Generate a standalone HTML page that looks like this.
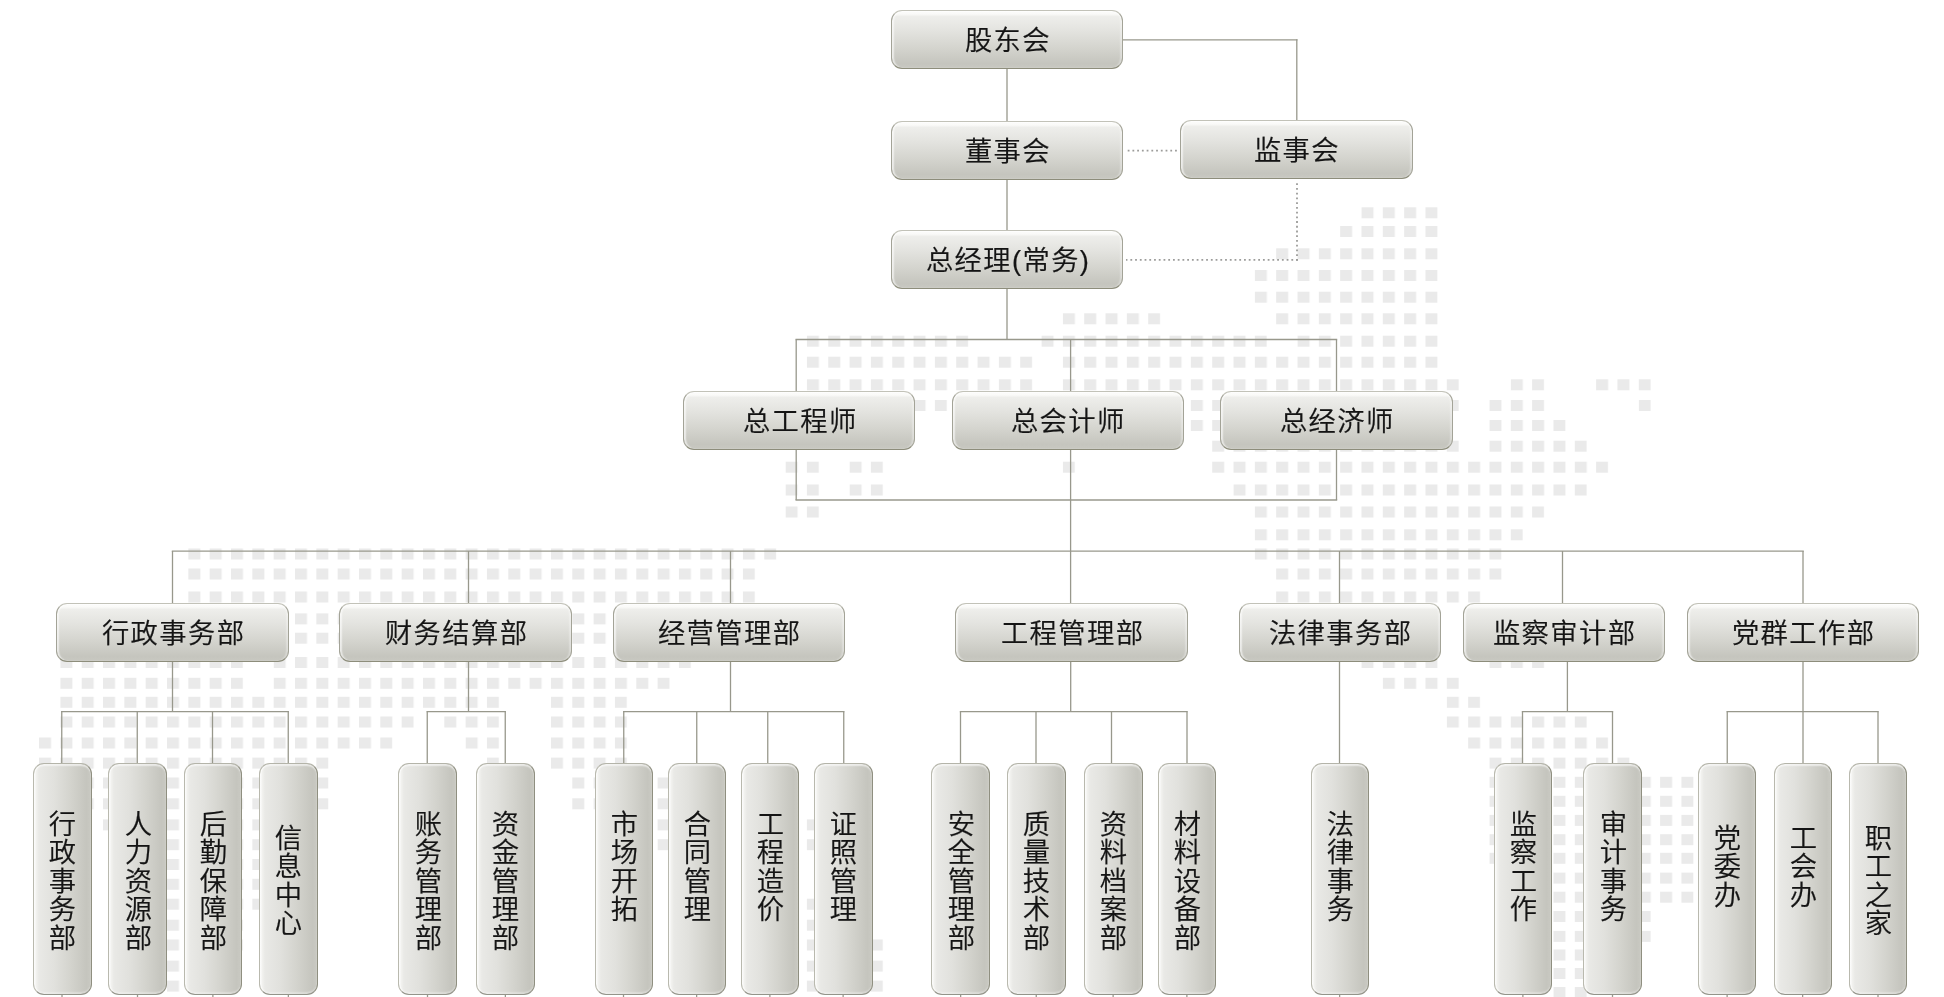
<!DOCTYPE html>
<html lang="zh-CN"><head><meta charset="utf-8"><title>组织机构</title>
<style>
html,body{margin:0;padding:0;background:#fff;}
body{width:1944px;height:997px;position:relative;overflow:hidden;font-family:"Liberation Sans","Noto Sans CJK SC",sans-serif;}
#bg,#ln{position:absolute;left:0;top:0;}
#all{position:absolute;left:0;top:0;width:1944px;height:997px;}
.b{position:absolute;box-sizing:border-box;border:1.4px solid;border-radius:11px;color:#141414;-webkit-text-stroke:0.22px #141414;font-size:27.3px;letter-spacing:1.4px;font-weight:350;}
.h{height:59px;line-height:59px;text-align:center;white-space:nowrap;text-indent:0.9px;
 border-color:#c2c2b8 #a3a397 #8d8d7b #a3a397;
 background:linear-gradient(to bottom,#fcfcfb 0,#fafaf8 3px,#eeeeeb 5.5px,#e3e3df 35%,#d4d4ce 65%,#c5c5be 92%,#c8c8c1 100%);
 box-shadow:inset 2.5px 0 1.5px -0.5px rgba(255,255,255,.6), inset -2.5px 0 1.5px -0.5px rgba(255,255,255,.3), inset 0 1px 1px rgba(255,255,255,.6);}
.v{top:763px;height:232.25px;text-align:center;
 border-color:#b4b4a9 #8f8f80 #94948a #b9b9ae;
 background:linear-gradient(to right,#f7f7f5 0,#f1f1ee 2.5px,#e9e9e6 5px,#e1e1dd 35%,#d3d3cd 65%,#c5c5be 92%,#c9c9c2 100%);
 box-shadow:inset 0 2.5px 1.5px -0.5px rgba(255,255,255,.6), inset 0 -2.5px 1.5px -0.5px rgba(255,255,255,.3), inset 2px 0 1px -0.5px rgba(255,255,255,.55);}
.h span{display:inline-block;will-change:transform;}
.v span{will-change:transform;position:absolute;left:50%;transform:translateX(calc(-50% - 2.6px));display:block;writing-mode:vertical-rl;line-height:30px;width:30px;letter-spacing:1.15px;white-space:nowrap;}
</style></head><body>
<div id="all"><svg id="bg" width="1944" height="997" viewBox="0 0 1944 997"><defs><pattern id="p" x="17.7" y="0" width="21.33" height="64" patternUnits="userSpaceOnUse"><rect x="0" y="0" width="12" height="64" fill="#eaeaea"/></pattern></defs><g fill="url(#p)"><rect x="1361.2" y="207.3" width="76.6" height="11"/><rect x="1339.9" y="226.0" width="97.9" height="11"/><rect x="1275.9" y="248.3" width="161.9" height="11"/><rect x="1254.5" y="270.0" width="183.2" height="11"/><rect x="1254.5" y="291.7" width="183.2" height="11"/><rect x="1062.6" y="313.3" width="97.9" height="11"/><rect x="1275.9" y="313.3" width="161.9" height="11"/><rect x="806.6" y="335.7" width="161.9" height="11"/><rect x="1041.2" y="335.7" width="225.9" height="11"/><rect x="1297.2" y="335.7" width="140.6" height="11"/><rect x="806.6" y="356.7" width="225.9" height="11"/><rect x="1062.6" y="356.7" width="375.2" height="11"/><rect x="806.6" y="379.3" width="225.9" height="11"/><rect x="1062.6" y="379.3" width="396.5" height="11"/><rect x="1510.5" y="379.3" width="33.9" height="11"/><rect x="1595.8" y="379.3" width="55.3" height="11"/><rect x="806.6" y="400.0" width="140.6" height="11"/><rect x="1062.6" y="400.0" width="396.5" height="11"/><rect x="1489.2" y="400.0" width="55.3" height="11"/><rect x="1638.5" y="400.0" width="12.6" height="11"/><rect x="827.9" y="420.0" width="76.6" height="11"/><rect x="1083.9" y="420.0" width="353.9" height="11"/><rect x="1489.2" y="420.0" width="76.6" height="11"/><rect x="1211.9" y="440.7" width="247.2" height="11"/><rect x="1489.2" y="440.7" width="97.9" height="11"/><rect x="785.3" y="461.7" width="33.9" height="11"/><rect x="849.3" y="461.7" width="33.9" height="11"/><rect x="1062.6" y="461.7" width="12.6" height="11"/><rect x="1211.9" y="461.7" width="396.5" height="11"/><rect x="785.3" y="484.5" width="33.9" height="11"/><rect x="849.3" y="484.5" width="33.9" height="11"/><rect x="1233.2" y="484.5" width="353.9" height="11"/><rect x="785.3" y="506.5" width="33.9" height="11"/><rect x="1254.5" y="506.5" width="289.9" height="11"/><rect x="1254.5" y="529.3" width="268.6" height="11"/><rect x="188.0" y="548.5" width="588.5" height="11"/><rect x="1254.5" y="548.5" width="247.2" height="11"/><rect x="188.0" y="568.5" width="567.2" height="11"/><rect x="1275.9" y="568.5" width="225.9" height="11"/><rect x="188.0" y="591.5" width="567.2" height="11"/><rect x="1275.9" y="591.5" width="204.6" height="11"/><rect x="188.0" y="613.4" width="567.2" height="11"/><rect x="1297.2" y="613.4" width="140.6" height="11"/><rect x="188.0" y="632.7" width="567.2" height="11"/><rect x="1339.9" y="632.7" width="97.9" height="11"/><rect x="60.1" y="657.0" width="183.2" height="11"/><rect x="273.4" y="657.0" width="417.9" height="11"/><rect x="1361.2" y="657.0" width="76.6" height="11"/><rect x="1489.2" y="657.0" width="55.3" height="11"/><rect x="60.1" y="677.8" width="183.2" height="11"/><rect x="273.4" y="677.8" width="396.5" height="11"/><rect x="1382.5" y="677.8" width="76.6" height="11"/><rect x="60.1" y="696.8" width="439.2" height="11"/><rect x="550.7" y="696.8" width="76.6" height="11"/><rect x="1446.5" y="696.8" width="33.9" height="11"/><rect x="60.1" y="716.5" width="353.9" height="11"/><rect x="444.0" y="716.5" width="55.3" height="11"/><rect x="550.7" y="716.5" width="76.6" height="11"/><rect x="1446.5" y="716.5" width="140.6" height="11"/><rect x="38.7" y="737.5" width="353.9" height="11"/><rect x="465.3" y="737.5" width="33.9" height="11"/><rect x="550.7" y="737.5" width="76.6" height="11"/><rect x="1467.8" y="737.5" width="140.6" height="11"/><rect x="38.7" y="757.6" width="289.9" height="11"/><rect x="486.7" y="757.6" width="12.6" height="11"/><rect x="550.7" y="757.6" width="76.6" height="11"/><rect x="1489.2" y="757.6" width="140.6" height="11"/><rect x="60.1" y="777.5" width="268.6" height="11"/><rect x="572.0" y="777.5" width="97.9" height="11"/><rect x="1489.2" y="776.8" width="204.6" height="11"/><rect x="81.4" y="798.3" width="247.2" height="11"/><rect x="572.0" y="798.3" width="119.2" height="11"/><rect x="1489.2" y="795.8" width="204.6" height="11"/><rect x="102.7" y="819.4" width="204.6" height="11"/><rect x="614.6" y="819.4" width="97.9" height="11"/><rect x="785.3" y="819.4" width="33.9" height="11"/><rect x="1489.2" y="814.9" width="204.6" height="11"/><rect x="124.0" y="839.2" width="161.9" height="11"/><rect x="657.3" y="839.2" width="55.3" height="11"/><rect x="785.3" y="839.2" width="33.9" height="11"/><rect x="1489.2" y="834.2" width="204.6" height="11"/><rect x="124.0" y="859.0" width="161.9" height="11"/><rect x="1489.2" y="852.8" width="204.6" height="11"/><rect x="145.4" y="878.8" width="140.6" height="11"/><rect x="1510.5" y="872.6" width="183.2" height="11"/><rect x="145.4" y="898.7" width="119.2" height="11"/><rect x="785.3" y="898.7" width="55.3" height="11"/><rect x="1510.5" y="891.7" width="183.2" height="11"/><rect x="166.7" y="919.7" width="76.6" height="11"/><rect x="785.3" y="919.7" width="76.6" height="11"/><rect x="1531.8" y="911.0" width="119.2" height="11"/><rect x="166.7" y="939.5" width="76.6" height="11"/><rect x="785.3" y="939.5" width="97.9" height="11"/><rect x="1531.8" y="930.9" width="119.2" height="11"/><rect x="166.7" y="960.6" width="55.3" height="11"/><rect x="785.3" y="960.6" width="97.9" height="11"/><rect x="1553.2" y="949.5" width="76.6" height="11"/><rect x="166.7" y="980.6" width="55.3" height="11"/><rect x="785.3" y="980.6" width="97.9" height="11"/><rect x="1553.2" y="968.0" width="55.3" height="11"/><rect x="1553.2" y="987.0" width="33.9" height="11"/></g></svg>
<svg id="ln" width="1944" height="997" viewBox="0 0 1944 997"><g stroke="#98988c" stroke-width="1.3" fill="none"><path d="M1007 69L1007 121.5"/><path d="M1007 180L1007 231"/><path d="M1007 289L1007 339.5"/><path d="M1123 39.9L1297.5 39.9"/><path d="M1296.8 39.2L1296.8 120.5"/><path d="M795.5 339.5L1337.2 339.5"/><path d="M796.2 339.5L796.2 391.5"/><path d="M796.2 450L796.2 500"/><path d="M1070.6 339.5L1070.6 391.5"/><path d="M1070.6 450L1070.6 603.5"/><path d="M1336.5 339.5L1336.5 391.5"/><path d="M1336.5 450L1336.5 500"/><path d="M795.5 500L1337.2 500"/><path d="M171.8 551.1L1803.8 551.1"/><path d="M172.5 551L172.5 603.5"/><path d="M468.5 551L468.5 603.5"/><path d="M730.5 551L730.5 603.5"/><path d="M1339.5 551L1339.5 603.5"/><path d="M1562.5 551L1562.5 603.5"/><path d="M1803 551L1803 603.5"/><path d="M172.5 661.5L172.5 711.5"/><path d="M468.5 661.5L468.5 711.5"/><path d="M730.5 661.5L730.5 711.5"/><path d="M1070.7 661.5L1070.7 711.5"/><path d="M1567.4 661.5L1567.4 711.5"/><path d="M1803 661.5L1803 711.5"/><path d="M1339.5 661.5L1339.5 763.5"/><path d="M61.05 711.6L288.95 711.6"/><path d="M61.75 711.6L61.75 763.5"/><path d="M137.25 711.6L137.25 763.5"/><path d="M212.5 711.6L212.5 763.5"/><path d="M288.25 711.6L288.25 763.5"/><path d="M426.55 711.6L505.95 711.6"/><path d="M427.25 711.6L427.25 763.5"/><path d="M505.25 711.6L505.25 763.5"/><path d="M623.05 711.6L844.45 711.6"/><path d="M623.75 711.6L623.75 763.5"/><path d="M696.75 711.6L696.75 763.5"/><path d="M767.75 711.6L767.75 763.5"/><path d="M843.75 711.6L843.75 763.5"/><path d="M959.8 711.6L1187.7 711.6"/><path d="M960.5 711.6L960.5 763.5"/><path d="M1036 711.6L1036 763.5"/><path d="M1111.5 711.6L1111.5 763.5"/><path d="M1187 711.6L1187 763.5"/><path d="M1521.8 711.6L1613.2 711.6"/><path d="M1522.5 711.6L1522.5 763.5"/><path d="M1612.5 711.6L1612.5 763.5"/><path d="M1726.55 711.6L1878.7 711.6"/><path d="M1727.25 711.6L1727.25 763.5"/><path d="M1803 711.6L1803 763.5"/><path d="M1878 711.6L1878 763.5"/><path d="M62 995L62 997"/><path d="M137.5 995L137.5 997"/><path d="M212.875 995L212.875 997"/><path d="M288.375 995L288.375 997"/><path d="M427.5 995L427.5 997"/><path d="M505.375 995L505.375 997"/><path d="M623.5 995L623.5 997"/><path d="M696.625 995L696.625 997"/><path d="M769.875 995L769.875 997"/><path d="M843.125 995L843.125 997"/><path d="M960.625 995L960.625 997"/><path d="M1036.25 995L1036.25 997"/><path d="M1113.12 995L1113.12 997"/><path d="M1186.88 995L1186.88 997"/><path d="M1339.62 995L1339.62 997"/><path d="M1522.88 995L1522.88 997"/><path d="M1612.5 995L1612.5 997"/><path d="M1727.12 995L1727.12 997"/><path d="M1802.62 995L1802.62 997"/><path d="M1878 995L1878 997"/></g><g stroke="#9c9c9a" stroke-width="1.8" stroke-dasharray="1.8 2.935" fill="none"><path d="M1127.7 150.65L1177.5 150.65"/><path d="M1297 260.8L1297 183"/><path d="M1297.9 259.9L1126 259.9"/></g></svg>
<div class="b h" style="left:891px;top:10.25px;width:232px"><span>股东会</span></div>
<div class="b h" style="left:891px;top:121px;width:232px"><span>董事会</span></div>
<div class="b h" style="left:1180px;top:120px;width:232.5px"><span>监事会</span></div>
<div class="b h" style="left:891px;top:230.25px;width:232px"><span>总经理(常务)</span></div>
<div class="b h" style="left:683px;top:391px;width:232px"><span>总工程师</span></div>
<div class="b h" style="left:951.5px;top:391px;width:232.25px"><span>总会计师</span></div>
<div class="b h" style="left:1220px;top:391px;width:232.5px"><span>总经济师</span></div>
<div class="b h" style="left:56.25px;top:603px;width:232.5px"><span>行政事务部</span></div>
<div class="b h" style="left:339.25px;top:603px;width:232.5px"><span>财务结算部</span></div>
<div class="b h" style="left:613px;top:603px;width:232px"><span>经营管理部</span></div>
<div class="b h" style="left:955px;top:603px;width:232.5px"><span>工程管理部</span></div>
<div class="b h" style="left:1238.5px;top:603px;width:202.25px"><span>法律事务部</span></div>
<div class="b h" style="left:1462.75px;top:603px;width:202.25px"><span>监察审计部</span></div>
<div class="b h" style="left:1686.75px;top:603px;width:232.5px"><span>党群工作部</span></div>
<div class="b v" style="left:32.5px;width:59px"><span style="top:45.7px">行政事务部</span></div>
<div class="b v" style="left:108px;width:59px"><span style="top:45.7px">人力资源部</span></div>
<div class="b v" style="left:183.75px;width:58.25px"><span style="top:45.7px">后勤保障部</span></div>
<div class="b v" style="left:259.25px;width:58.25px"><span style="top:59.8px">信息中心</span></div>
<div class="b v" style="left:398px;width:59px"><span style="top:45.7px">账务管理部</span></div>
<div class="b v" style="left:476.25px;width:58.25px"><span style="top:45.7px">资金管理部</span></div>
<div class="b v" style="left:594.5px;width:58px"><span style="top:45.7px">市场开拓</span></div>
<div class="b v" style="left:667.5px;width:58.25px"><span style="top:45.7px">合同管理</span></div>
<div class="b v" style="left:740.5px;width:58.75px"><span style="top:45.7px">工程造价</span></div>
<div class="b v" style="left:813.75px;width:58.75px"><span style="top:45.7px">证照管理</span></div>
<div class="b v" style="left:931.25px;width:58.75px"><span style="top:45.7px">安全管理部</span></div>
<div class="b v" style="left:1007px;width:58.5px"><span style="top:45.7px">质量技术部</span></div>
<div class="b v" style="left:1083.75px;width:58.75px"><span style="top:45.7px">资料档案部</span></div>
<div class="b v" style="left:1157.5px;width:58.75px"><span style="top:45.7px">材料设备部</span></div>
<div class="b v" style="left:1310.5px;width:58.25px"><span style="top:45.7px">法律事务</span></div>
<div class="b v" style="left:1493.75px;width:58.25px"><span style="top:45.7px">监察工作</span></div>
<div class="b v" style="left:1583.25px;width:58.5px"><span style="top:45.7px">审计事务</span></div>
<div class="b v" style="left:1698px;width:58.25px"><span style="top:59.8px">党委办</span></div>
<div class="b v" style="left:1773.5px;width:58.25px"><span style="top:59.8px">工会办</span></div>
<div class="b v" style="left:1848.75px;width:58.5px"><span style="top:59.8px">职工之家</span></div>
</div></body></html>
